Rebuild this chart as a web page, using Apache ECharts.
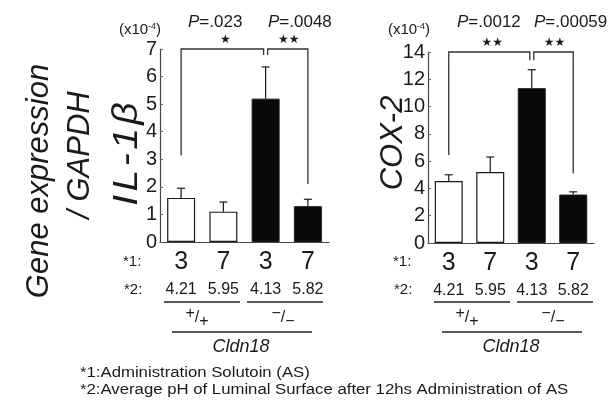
<!DOCTYPE html>
<html><head><meta charset="utf-8">
<script src="https://cdn.jsdelivr.net/npm/echarts@6/dist/echarts.min.js"></script>
<style>html,body{margin:0;padding:0;background:#fff}#c{width:616px;height:400px}</style>
</head><body><div id="c"></div>
<script>
// ---- data ----
const categories = ['3', '7', '3', '7'];
const phValues = ['4.21', '5.95', '4.13', '5.82'];
const genotypes = ['+/+', '+/+', '-/-', '-/-'];
const il1bMean = [1.6, 1.1, 5.2, 1.3];
const il1bErrTop = [1.95, 1.45, 6.35, 1.55];
const cox2Mean = [4.55, 5.2, 11.35, 3.55];
const cox2ErrTop = [5.0, 6.3, 12.7, 3.75];
// [fromCat, toCat, top, leftLegBottom, rightLegBottom, stars]
const il1bBrackets = [[0, 2, 7, 3.15, 6.78, '★'], [2, 3, 7, 6.78, 2.1, '★★']];
const cox2Brackets = [[0, 2, 14, 6.45, 13.4, '★★'], [2, 3, 14, 13.4, 5.1, '★★']];
const il1bP = ['.023', '.0048'];
const cox2P = ['.0012', '.00059'];
const il1bTicks = {min: 0, max: 7, interval: 1};
const cox2Ticks = {min: 0, max: 14, interval: 2};

const FONT = '"Liberation Sans", Arial, sans-serif';
const INK = '#1a1a1a';
const chart = echarts.init(document.getElementById('c'), null, {renderer: 'canvas'});

function barData(vals) {
  return vals.map((v, i) => ({
    value: v,
    itemStyle: genotypes[i] === '+/+'
      ? {color: '#fff', borderColor: INK, borderWidth: 1.2}
      : {color: '#0a0a0a', borderColor: INK, borderWidth: 1}
  }));
}
function errData(mean, top) { return mean.map((m, i) => [i, m, top[i]]); }
function errRender(params, api) {
  const p0 = api.coord([api.value(0), api.value(1)]);
  const p1 = api.coord([api.value(0), api.value(2)]);
  const half = 4;
  return {type: 'group', children: [
    {type: 'line', shape: {x1: p0[0], y1: p0[1], x2: p1[0], y2: p1[1]}, style: {stroke: INK, lineWidth: 1.2}},
    {type: 'line', shape: {x1: p1[0] - half, y1: p1[1], x2: p1[0] + half, y2: p1[1]}, style: {stroke: INK, lineWidth: 1.2}}
  ]};
}
const brk = {b1: il1bBrackets, b2: cox2Brackets};
function bracketRender(params, api) {
  const a = api.value(0), b = api.value(1), top = api.value(2);
  const pa = api.coord([a, api.value(3)]);
  const pb = api.coord([b, api.value(4)]);
  const ta = api.coord([a, top]);
  const tb = api.coord([b, top]);
  const dxA = a === 2 ? 2 : 0;
  const dxB = b === 2 ? -2 : 0;
  const stars = brk[params.seriesName][params.dataIndex][5];
  return {type: 'group', children: [
    {type: 'polyline', shape: {points: [[pa[0] + dxA, pa[1]], [ta[0] + dxA, ta[1]], [tb[0] + dxB, tb[1]], [pb[0] + dxB, pb[1]]]},
     style: {stroke: '#333', lineWidth: 1.3, fill: null}},
    {type: 'text', x: (ta[0] + tb[0]) / 2 + 2, y: ta[1] - 9,
     style: {text: stars, font: '12px "DejaVu Sans", sans-serif', fill: INK, align: 'center', verticalAlign: 'middle'}}
  ]};
}

function xAxis(gi) {
  return {
    type: 'category', gridIndex: gi, data: categories,
    axisLine: {lineStyle: {color: '#444', width: 1.2}},
    axisTick: {show: false},
    axisLabel: {
      margin: 6, interval: 0,
      formatter: (v, i) => '{a|' + v + '}\n{b|' + phValues[i] + '}',
      rich: {
        a: {fontSize: 25, lineHeight: 28, color: INK, fontFamily: FONT},
        b: {fontSize: 16, lineHeight: 28, color: INK, fontFamily: FONT}
      }
    }
  };
}
function yAxis(gi, t) {
  return {
    type: 'value', gridIndex: gi, min: t.min, max: t.max, interval: t.interval,
    splitLine: {show: false},
    axisLine: {show: true, lineStyle: {color: '#444', width: 1.2}},
    axisTick: {show: true, inside: true, length: 3, lineStyle: {color: '#666'}},
    axisLabel: {margin: 3, fontSize: 20, color: INK, fontFamily: '"Liberation Sans Narrow", ' + FONT}
  };
}

const T = (x, y, text, extra) => Object.assign({type: 'text', x: x, y: y, style: Object.assign({text: text, fill: INK, font: '16px ' + FONT}, extra || {})});
const L = (x1, y1, x2, y2) => ({type: 'line', shape: {x1, y1, x2, y2}, style: {stroke: '#222', lineWidth: 1.3}});
const pRich = {i: {fontStyle: 'italic', fontSize: 17, fontFamily: FONT, fill: INK}, n: {fontSize: 17, fontFamily: FONT, fill: INK}};
const exp = {n: {fontSize: 15, fontFamily: FONT, fill: INK}, s: {fontSize: 9, fontFamily: FONT, fill: INK, verticalAlign: 'top', padding: [0, 0, 7, 0]}};
const gt = {n: {fontSize: 16, fontFamily: FONT, fill: INK}, u: {fontSize: 16, fontFamily: FONT, fill: INK, padding: [0, 0, 8, 0]}, d: {fontSize: 16, fontFamily: FONT, fill: INK, padding: [8, 0, 0, 0]}};
const spaced = {c: {fontStyle: 'italic', fontSize: 35, fontFamily: FONT, fill: INK, padding: [0, 1.5, 0, 1.5]}};

function panelGraphics(dx, pLabels, pPos) {
  return [
    T(pPos[0], 22, '{i|P}{n|=' + pLabels[0] + '}', {rich: pRich, align: 'left', verticalAlign: 'middle'}),
    T(pPos[1], 22, '{i|P}{n|=' + pLabels[1] + '}', {rich: pRich, align: 'left', verticalAlign: 'middle'}),
    T(123 + dx, 262, '*1:', {align: 'left', verticalAlign: 'middle', font: '15px ' + FONT}),
    T(124 + dx, 290, '*2:', {align: 'left', verticalAlign: 'middle', font: '15px ' + FONT}),
    L(164 + dx, 302, 240 + dx, 302),
    L(247 + dx, 302, 323 + dx, 302),
    T(197 + dx, 318, '{u|+}{n|/}{d|+}', {rich: gt, align: 'center', verticalAlign: 'middle'}),
    T(283 + dx, 318, '{u|\u2212}{n|/}{d|\u2212}', {rich: gt, align: 'center', verticalAlign: 'middle'}),
    L(172 + dx, 332, 312 + dx, 332),
    T(241 + dx, 347, 'Cldn18', {align: 'center', verticalAlign: 'middle', font: 'italic 18px ' + FONT})
  ];
}

const option = {
  animation: false,
  backgroundColor: '#fff',
  grid: [
    {left: 160, top: 49, width: 169, height: 193},
    {left: 428, top: 52, width: 166, height: 191}
  ],
  xAxis: [xAxis(0), xAxis(1)],
  yAxis: [yAxis(0, il1bTicks), yAxis(1, cox2Ticks)],
  series: [
    {type: 'bar', xAxisIndex: 0, yAxisIndex: 0, barWidth: 28, data: barData(il1bMean)},
    {type: 'bar', xAxisIndex: 1, yAxisIndex: 1, barWidth: 28, data: barData(cox2Mean)},
    {type: 'custom', xAxisIndex: 0, yAxisIndex: 0, renderItem: errRender, data: errData(il1bMean, il1bErrTop), z: 1},
    {type: 'custom', xAxisIndex: 1, yAxisIndex: 1, renderItem: errRender, data: errData(cox2Mean, cox2ErrTop), z: 1},
    {type: 'custom', name: 'b1', xAxisIndex: 0, yAxisIndex: 0, renderItem: bracketRender, data: il1bBrackets.map(b => b.slice(0, 5)), clip: false},
    {type: 'custom', name: 'b2', xAxisIndex: 1, yAxisIndex: 1, renderItem: bracketRender, data: cox2Brackets.map(b => b.slice(0, 5)), clip: false}
  ],
  graphic: [].concat(
    panelGraphics(0, il1bP, [188, 268]),
    panelGraphics(270, cox2P, [457, 534]),
    [
      T(140, 30, '{n|(x10}{s|-4}{n|)}', {rich: exp, align: 'center', verticalAlign: 'middle'}),
      T(409, 30, '{n|(x10}{s|-4}{n|)}', {rich: exp, align: 'center', verticalAlign: 'middle'}),
      {type: 'text', x: 127, y: 154, rotation: Math.PI / 2, scaleX: 1.12,
       style: {text: '{c|I}{c|L}{c|-}{c|1}{c|\u03b2}', rich: spaced, align: 'center', verticalAlign: 'middle'}},
      {type: 'text', x: 393, y: 143, rotation: Math.PI / 2,
       style: {text: 'COX-2', font: 'italic 31px ' + FONT, fill: INK, align: 'center', verticalAlign: 'middle'}},
      {type: 'text', x: 39, y: 181, rotation: Math.PI / 2,
       style: {text: 'Gene expression', font: 'italic 31px ' + FONT, fill: INK, align: 'center', verticalAlign: 'middle'}},
      {type: 'text', x: 80, y: 155, rotation: Math.PI / 2,
       style: {text: '/ GAPDH', font: 'italic 31px ' + FONT, fill: INK, align: 'center', verticalAlign: 'middle'}},
      {type: 'text', x: 80, y: 373, scaleX: 1.08, style: {text: '*1:Administration Solutoin (AS)', fill: INK, font: '15.5px ' + FONT, align: 'left', verticalAlign: 'middle'}},
      {type: 'text', x: 80, y: 390, scaleX: 1.08, style: {text: '*2:Average pH of Luminal Surface after 12hs Administration of AS', fill: INK, font: '15.5px ' + FONT, align: 'left', verticalAlign: 'middle'}}
    ]
  )
};
chart.setOption(option);
</script>
</body></html>
